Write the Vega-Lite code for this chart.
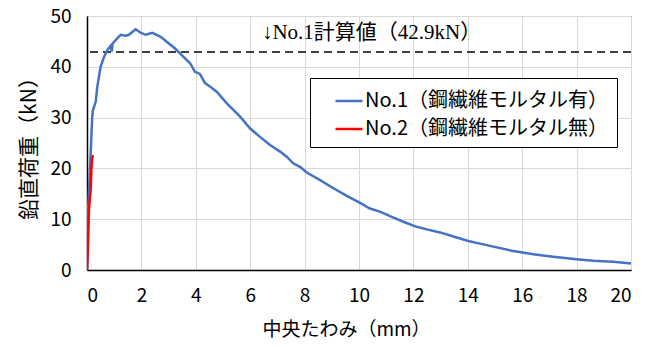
{
  "$schema": "https://vega.github.io/schema/vega-lite/v6.json",
  "autosize": "none",
  "width": 544,
  "height": 254,
  "padding": {"left": 87, "top": 16, "right": 26, "bottom": 77},
  "config": {
    "font": "Noto Sans CJK JP",
    "view": {"stroke": "#000", "strokeWidth": 1},
    "axis": {
      "gridColor": "#d9d9d9",
      "gridWidth": 1,
      "domainColor": "#000",
      "domainWidth": 1.5,
      "ticks": false,
      "tickSize": 0,
      "labelFontSize": 19,
      "labelColor": "#000",
      "labelFont": "Noto Sans CJK JP",
      "titleFont": "Noto Sans CJK JP",
      "titleFontSize": 19,
      "titleFontWeight": "normal",
      "titleColor": "#000"
    }
  },
  "datasets": {
    "curves": [
      {"x": 0, "y": 0, "s": "No.1（鋼繊維モルタル有）"},
      {"x": 0.04, "y": 11.8, "s": "No.1（鋼繊維モルタル有）"},
      {"x": 0.07, "y": 15.2, "s": "No.1（鋼繊維モルタル有）"},
      {"x": 0.14, "y": 23.6, "s": "No.1（鋼繊維モルタル有）"},
      {"x": 0.19, "y": 30.1, "s": "No.1（鋼繊維モルタル有）"},
      {"x": 0.22, "y": 31.5, "s": "No.1（鋼繊維モルタル有）"},
      {"x": 0.32, "y": 33.1, "s": "No.1（鋼繊維モルタル有）"},
      {"x": 0.38, "y": 36.1, "s": "No.1（鋼繊維モルタル有）"},
      {"x": 0.44, "y": 38.1, "s": "No.1（鋼繊維モルタル有）"},
      {"x": 0.5, "y": 40.0, "s": "No.1（鋼繊維モルタル有）"},
      {"x": 0.63, "y": 42.0, "s": "No.1（鋼繊維モルタル有）"},
      {"x": 0.75, "y": 43.3, "s": "No.1（鋼繊維モルタル有）"},
      {"x": 0.87, "y": 44.1, "s": "No.1（鋼繊維モルタル有）"},
      {"x": 0.91, "y": 43.0, "s": "No.1（鋼繊維モルタル有）"},
      {"x": 0.94, "y": 44.5, "s": "No.1（鋼繊維モルタル有）"},
      {"x": 0.99, "y": 44.9, "s": "No.1（鋼繊維モルタル有）"},
      {"x": 1.11, "y": 45.6, "s": "No.1（鋼繊維モルタル有）"},
      {"x": 1.24, "y": 46.3, "s": "No.1（鋼繊維モルタル有）"},
      {"x": 1.42, "y": 46.1, "s": "No.1（鋼繊維モルタル有）"},
      {"x": 1.54, "y": 46.3, "s": "No.1（鋼繊維モルタル有）"},
      {"x": 1.79, "y": 47.4, "s": "No.1（鋼繊維モルタル有）"},
      {"x": 1.97, "y": 46.7, "s": "No.1（鋼繊維モルタル有）"},
      {"x": 2.16, "y": 46.3, "s": "No.1（鋼繊維モルタル有）"},
      {"x": 2.4, "y": 46.7, "s": "No.1（鋼繊維モルタル有）"},
      {"x": 2.71, "y": 45.9, "s": "No.1（鋼繊維モルタル有）"},
      {"x": 3.01, "y": 44.6, "s": "No.1（鋼繊維モルタル有）"},
      {"x": 3.24, "y": 43.6, "s": "No.1（鋼繊維モルタル有）"},
      {"x": 3.54, "y": 42.0, "s": "No.1（鋼繊維モルタル有）"},
      {"x": 3.79, "y": 40.7, "s": "No.1（鋼繊維モルタル有）"},
      {"x": 3.97, "y": 39.0, "s": "No.1（鋼繊維モルタル有）"},
      {"x": 4.15, "y": 38.6, "s": "No.1（鋼繊維モルタル有）"},
      {"x": 4.34, "y": 36.8, "s": "No.1（鋼繊維モルタル有）"},
      {"x": 4.52, "y": 36.1, "s": "No.1（鋼繊維モルタル有）"},
      {"x": 4.77, "y": 35.1, "s": "No.1（鋼繊維モルタル有）"},
      {"x": 5.14, "y": 32.8, "s": "No.1（鋼繊維モルタル有）"},
      {"x": 5.63, "y": 30.2, "s": "No.1（鋼繊維モルタル有）"},
      {"x": 5.99, "y": 27.9, "s": "No.1（鋼繊維モルタル有）"},
      {"x": 6.36, "y": 26.2, "s": "No.1（鋼繊維モルタル有）"},
      {"x": 6.73, "y": 24.6, "s": "No.1（鋼繊維モルタル有）"},
      {"x": 7.1, "y": 23.3, "s": "No.1（鋼繊維モルタル有）"},
      {"x": 7.34, "y": 22.3, "s": "No.1（鋼繊維モルタル有）"},
      {"x": 7.58, "y": 21.0, "s": "No.1（鋼繊維モルタル有）"},
      {"x": 7.83, "y": 20.3, "s": "No.1（鋼繊維モルタル有）"},
      {"x": 8.08, "y": 19.2, "s": "No.1（鋼繊維モルタル有）"},
      {"x": 8.57, "y": 17.7, "s": "No.1（鋼繊維モルタル有）"},
      {"x": 9.06, "y": 16.1, "s": "No.1（鋼繊維モルタル有）"},
      {"x": 9.55, "y": 14.6, "s": "No.1（鋼繊維モルタル有）"},
      {"x": 10.04, "y": 13.2, "s": "No.1（鋼繊維モルタル有）"},
      {"x": 10.4, "y": 12.1, "s": "No.1（鋼繊維モルタル有）"},
      {"x": 10.77, "y": 11.5, "s": "No.1（鋼繊維モルタル有）"},
      {"x": 11.14, "y": 10.6, "s": "No.1（鋼繊維モルタル有）"},
      {"x": 11.63, "y": 9.5, "s": "No.1（鋼繊維モルタル有）"},
      {"x": 12.12, "y": 8.5, "s": "No.1（鋼繊維モルタル有）"},
      {"x": 12.49, "y": 8.0, "s": "No.1（鋼繊維モルタル有）"},
      {"x": 12.98, "y": 7.4, "s": "No.1（鋼繊維モルタル有）"},
      {"x": 13.47, "y": 6.6, "s": "No.1（鋼繊維モルタル有）"},
      {"x": 14.02, "y": 5.7, "s": "No.1（鋼繊維モルタル有）"},
      {"x": 14.69, "y": 4.9, "s": "No.1（鋼繊維モルタル有）"},
      {"x": 15.61, "y": 3.8, "s": "No.1（鋼繊維モルタル有）"},
      {"x": 16.41, "y": 3.1, "s": "No.1（鋼繊維モルタル有）"},
      {"x": 17.14, "y": 2.6, "s": "No.1（鋼繊維モルタル有）"},
      {"x": 18.0, "y": 2.1, "s": "No.1（鋼繊維モルタル有）"},
      {"x": 18.61, "y": 1.8, "s": "No.1（鋼繊維モルタル有）"},
      {"x": 19.35, "y": 1.6, "s": "No.1（鋼繊維モルタル有）"},
      {"x": 20.0, "y": 1.3, "s": "No.1（鋼繊維モルタル有）"},
      {"x": 0, "y": 0, "s": "No.2（鋼繊維モルタル無）"},
      {"x": 0.04, "y": 5.3, "s": "No.2（鋼繊維モルタル無）"},
      {"x": 0.07, "y": 11.8, "s": "No.2（鋼繊維モルタル無）"},
      {"x": 0.14, "y": 16.4, "s": "No.2（鋼繊維モルタル無）"},
      {"x": 0.16, "y": 19.7, "s": "No.2（鋼繊維モルタル無）"},
      {"x": 0.19, "y": 22.0, "s": "No.2（鋼繊維モルタル無）"},
      {"x": 0.22, "y": 22.6, "s": "No.2（鋼繊維モルタル無）"}
    ],
    "note": [
      {"x": 6.43, "y": 46.6, "label": "↓No.1計算値（42.9kN）", "ref": 42.9}
    ]
  },
  "layer": [
    {
      "data": {"name": "note"},
      "mark": {"type": "text", "align": "left", "baseline": "middle", "fontSize": 21, "font": "Liberation Serif, Noto Sans CJK JP", "color": "#000"},
      "encoding": {
        "x": {"field": "x", "type": "quantitative", "scale": {"domain": [0, 20]}},
        "y": {"field": "y", "type": "quantitative", "scale": {"domain": [0, 50]}},
        "text": {"field": "label"}
      }
    },
    {
      "data": {"name": "note"},
      "mark": {"type": "rule", "color": "#000", "strokeWidth": 1.5, "strokeDash": [8, 5]},
      "encoding": {
        "y": {"field": "ref", "type": "quantitative"}
      }
    },
    {
      "data": {"name": "curves"},
      "mark": {"type": "line", "strokeWidth": 2.5, "clip": true},
      "encoding": {
        "x": {
          "field": "x", "type": "quantitative",
          "scale": {"domain": [0, 20], "nice": false},
          "axis": {"values": [0, 2, 4, 6, 8, 10, 12, 14, 16, 18, 20], "labelPadding": 16, "title": "中央たわみ（mm）", "titleX": 259, "titleY": 50, "titleBaseline": "top"}
        },
        "y": {
          "field": "y", "type": "quantitative",
          "scale": {"domain": [0, 50], "nice": false},
          "axis": {"values": [0, 10, 20, 30, 40, 50], "labelPadding": 16, "title": "鉛直荷重（kN）", "titlePadding": 10, "titleFontSize": 21}
        },
        "color": {
          "field": "s", "type": "nominal",
          "scale": {"domain": ["No.1（鋼繊維モルタル有）", "No.2（鋼繊維モルタル無）"], "range": ["#4472C4", "#FF0000"]},
          "legend": {
            "title": null,
            "orient": "none",
            "legendX": 223,
            "legendY": 62,
            "fillColor": "#fff",
            "strokeColor": "#000",
            "padding": 8,
            "symbolType": "stroke",
            "symbolSize": 729,
            "symbolStrokeWidth": 2.5,
            "symbolOffset": 16,
            "labelFontSize": 20,
            "labelColor": "#000",
            "labelLimit": 400,
            "labelOffset": 1,
            "labelExpr": "datum.label + '　 '",
            "rowPadding": 3
          }
        }
      }
    }
  ]
}
